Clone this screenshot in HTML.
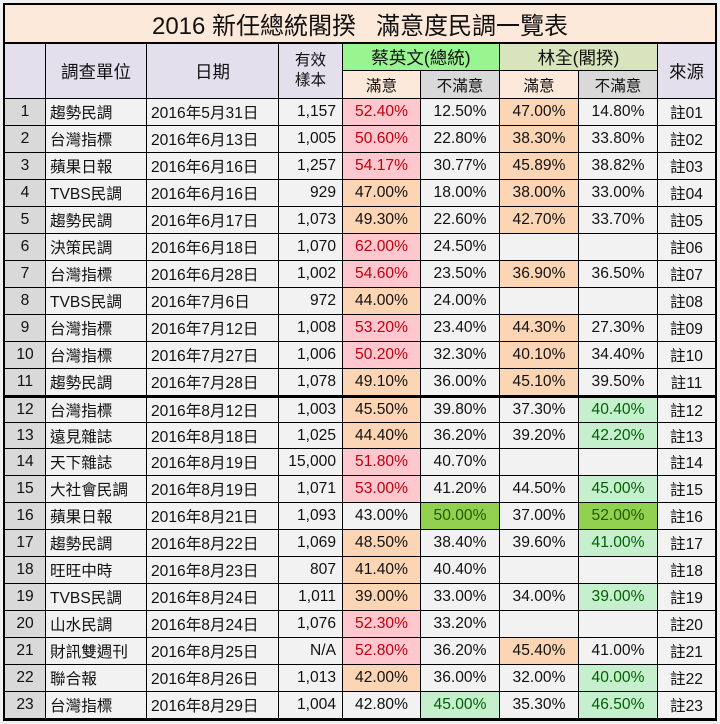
<!DOCTYPE html>
<html><head><meta charset="utf-8">
<style>
body{margin:0;width:720px;height:724px;background:#f0f0f0;overflow:hidden;font-family:"Liberation Sans","Noto Sans CJK TC",sans-serif;}
#t{position:absolute;left:0;top:0;width:720px;height:724px;}
.c{position:absolute;box-sizing:border-box;border-right:1px solid #000;border-bottom:1px solid #000;display:flex;align-items:center;justify-content:center;font-size:15.6px;color:#111;background:#f2f2f2;white-space:nowrap;}
.l{justify-content:flex-start;padding-left:4px}
.r{justify-content:flex-end;padding-right:6px}
.pink{background:#ffc7ce;color:#c00010}
.org{background:#fcd5b4}
.grn{background:#c6efce;color:#006100}
.dg{background:#92d050;color:#1f5b00}
</style></head><body>
<div id="t"></div>
<script>
const names=["趨勢民調","台灣指標","蘋果日報","TVBS民調","趨勢民調","決策民調","台灣指標","TVBS民調","台灣指標","台灣指標","趨勢民調","台灣指標","遠見雜誌","天下雜誌","大社會民調","蘋果日報","趨勢民調","旺旺中時","TVBS民調","山水民調","財訊雙週刊","聯合報","台灣指標"];
const dates=["2016年5月31日","2016年6月13日","2016年6月16日","2016年6月16日","2016年6月17日","2016年6月18日","2016年6月28日","2016年7月6日","2016年7月12日","2016年7月27日","2016年7月28日","2016年8月12日","2016年8月18日","2016年8月19日","2016年8月19日","2016年8月21日","2016年8月22日","2016年8月23日","2016年8月24日","2016年8月24日","2016年8月25日","2016年8月26日","2016年8月29日"];
const samples=["1,157","1,005","1,257","929","1,073","1,070","1,002","972","1,008","1,006","1,078","1,003","1,025","15,000","1,071","1,093","1,069","807","1,011","1,076","N/A","1,013","1,004"];
const tsaiSat=["52.40%","50.60%","54.17%","47.00%","49.30%","62.00%","54.60%","44.00%","53.20%","50.20%","49.10%","45.50%","44.40%","51.80%","53.00%","43.00%","48.50%","41.40%","39.00%","52.30%","52.80%","42.00%","42.80%"];
const tsaiDis=["12.50%","22.80%","30.77%","18.00%","22.60%","24.50%","23.50%","24.00%","23.40%","32.30%","36.00%","39.80%","36.20%","40.70%","41.20%","50.00%","38.40%","40.40%","33.00%","33.20%","36.20%","36.00%","45.00%"];
const linSat=["47.00%","38.30%","45.89%","38.00%","42.70%","","36.90%","","44.30%","40.10%","45.10%","37.30%","39.20%","","44.50%","37.00%","39.60%","","34.00%","","45.40%","32.00%","35.30%"];
const linDis=["14.80%","33.80%","38.82%","33.00%","33.70%","","36.50%","","27.30%","34.40%","39.50%","40.40%","42.20%","","45.00%","52.00%","41.00%","","39.00%","","41.00%","40.00%","46.50%"];
const cls=[["pink","","org",""],["pink","","org",""],["pink","","org",""],["org","","org",""],["org","","org",""],["pink","","",""],["pink","","org",""],["org","","",""],["pink","","org",""],["pink","","org",""],["org","","org",""],["org","","","grn"],["org","","","grn"],["pink","","",""],["pink","","","grn"],["","dg","","dg"],["org","","","grn"],["org","","",""],["org","","","grn"],["pink","","",""],["pink","","org",""],["org","","","grn"],["","grn","","grn"]];
const X=[4,46,147,279,343,421,500,579,658,716];
const T=document.getElementById('t');
function cell(x,y,w,h,txt,extra,style,name){
  const d=document.createElement('div');
  d.className='c '+(extra||'');
  d.style.cssText=`left:${x}px;top:${y}px;width:${w}px;height:${h}px;`+(style||'');
  d.innerHTML=txt;
  
  
  T.appendChild(d);return d;
}
const f=document.createElement('div');
f.style.cssText='position:absolute;left:3px;top:3px;width:714px;height:718px;border:2px solid #000;box-sizing:border-box;';


T.appendChild(f);
cell(5,5,711,39,"2016 新任總統閣揆&nbsp;&nbsp;&nbsp;滿意度民調一覽表","","background:#fde9d9;font-size:24px;border-bottom:2px solid #000;","table-title");
const hb="background:#e4dfec;font-size:17.5px;";
cell(5,44,41,55,"","",hb,"header-index");
cell(46,44,101,55,"調查單位","",hb,"header-pollster");
cell(147,44,132,55,"日期","",hb,"header-date");
cell(279,44,64,55,"有效<br>樣本","",hb+"font-size:15.6px;line-height:20px;text-align:center;","header-sample");
cell(343,44,157,27,"蔡英文(總統)","","background:#99f58f;font-size:17.5px;","header-tsai");
cell(500,44,158,27,"林全(閣揆)","","background:#d8e4bc;font-size:17.5px;","header-lin");
cell(658,44,58,55,"來源","",hb,"header-source");
cell(343,71,78,28,"滿意","","background:#fde9d9;","header-tsai-sat");
cell(421,71,79,28,"不滿意","","background:#d9d9d9;","header-tsai-dis");
cell(500,71,79,28,"滿意","","background:#fde9d9;","header-lin-sat");
cell(579,71,79,28,"不滿意","","background:#d9d9d9;","header-lin-dis");
const y0=99,rh=26.96;
for(let i=0;i<23;i++){
  const y=Math.round(y0+i*rh), h=Math.round(y0+(i+1)*rh)-y;
  const top=i==11?"border-top:2px solid #000;":"";
  cell(5,y,41,h,String(i+1),"","background:#d9d9d9;"+top,"row-index");
  cell(46,y,101,h,names[i],"l",top,"pollster");
  cell(147,y,132,h,dates[i],"l",top,"date");
  cell(279,y,64,h,samples[i],"r",top,"sample-size");
  const vals=[tsaiSat[i],tsaiDis[i],linSat[i],linDis[i]];
  const nm=["tsai-satisfied","tsai-dissatisfied","lin-satisfied","lin-dissatisfied"];
  for(let k=0;k<4;k++) cell(X[4+k],y,X[5+k]-X[4+k],h,vals[k],vals[k]?cls[i][k]:"",top,nm[k]);
  cell(658,y,58,h,"註"+String(i+1).padStart(2,"0"),"",top,"source-note");
}
</script>
</body></html>
